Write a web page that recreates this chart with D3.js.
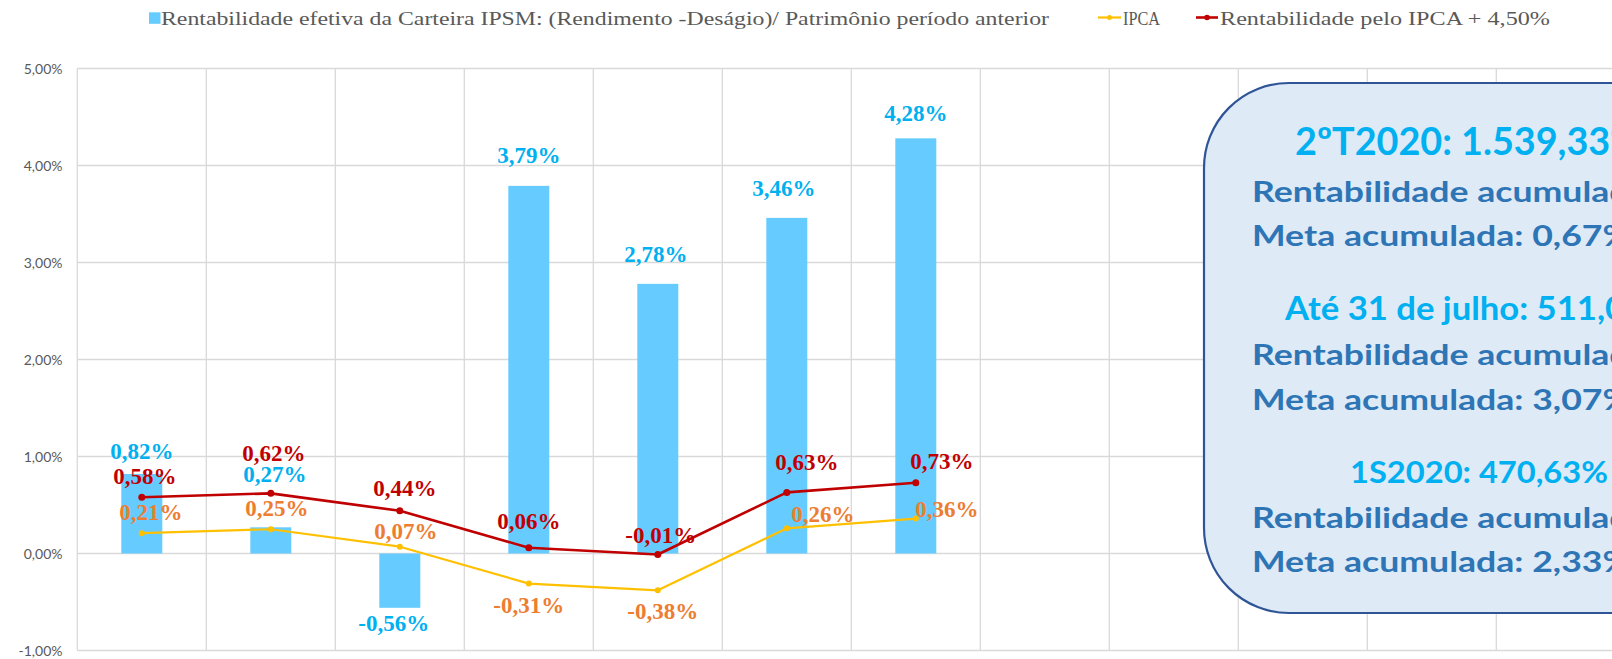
<!DOCTYPE html>
<html><head><meta charset="utf-8">
<script src="https://cdn.jsdelivr.net/npm/d3@7"></script>
<style>html,body{margin:0;padding:0;background:#fff;overflow:hidden}</style>
</head><body><svg id="c" width="1612" height="659"></svg>
<script>
// ---------------- DATA ----------------
const months = ["jan/20","fev/20","mar/20","abr/20","mai/20","jun/20","jul/20","ago/20","set/20","out/20","nov/20","dez/20"];
const rentabilidade = [0.82, 0.27, -0.56, 3.79, 2.78, 3.46, 4.28];
const ipca = [0.21, 0.25, 0.07, -0.31, -0.38, 0.26, 0.36];
const metaIpca = [0.58, 0.62, 0.44, 0.06, -0.01, 0.63, 0.73];
const yTicks = [-1, 0, 1, 2, 3, 4, 5];
const seriesNames = [
  "Rentabilidade efetiva da Carteira IPSM: (Rendimento -Deságio)/ Patrimônio período anterior",
  "IPCA",
  "Rentabilidade pelo IPCA + 4,50%"
];
const boxTitles = ["2ºT2020: 1.539,33%", "Até 31 de julho: 511,0", "1S2020: 470,63%"];
const boxRentLabel = "Rentabilidade acumulada";
const boxMetas = ["Meta acumulada: 0,67%", "Meta acumulada: 3,07%", "Meta acumulada: 2,33%"];

// ---------------- LAYOUT / STYLE ----------------
const svg = d3.select("#c");
const x = d3.scaleBand().domain(months).range([77.3, 77.3 + 129 * 12]).paddingInner(0).paddingOuter(0);
const y = d3.scaleLinear().domain([-1, 5]).range([650.5, 68.5]);
const barW = 41;
const C = {bar:"#66CCFF", blueLbl:"#00B0F0", red:"#C00000", yellow:"#FFC000", orange:"#ED7D31",
           grid:"#D9D9D9", axisTxt:"#595959", boxFill:"#DEEAF6", boxStroke:"#2F5597", boxBody:"#2E75B6"};
const locale = d3.formatLocale({decimal: ",", thousands: ".", grouping: [3], currency: ["R$", ""], minus: "-"});
const fmt = v => locale.format(".2f")(v) + "%";
const cx = i => x(months[i]) + x.bandwidth() / 2;

// label nudges (baseline offsets relative to mark end)
const barLabelOff  = [[0,-15],[4,-45],[-6,23],[0,-23],[-2,-22],[-3,-22],[0,-17]];
const metaLabelOff = [[3,-13],[3,-32],[5,-15],[0,-19],[3,-11],[20,-22],[26,-14]];
const ipcaLabelOff = [[9,-13],[6,-13],[6,-8],[0,29],[5,29],[36,-6],[31,-2]];

// gridlines
const g = svg.append("g");
g.selectAll("line.h").data(yTicks).join("line")
  .attr("x1", x.range()[0]).attr("x2", x.range()[1])
  .attr("y1", d => y(d)).attr("y2", d => y(d))
  .attr("stroke", C.grid).attr("stroke-width", 1.3);
const vBounds = d3.range(months.length + 1).map(i => x.range()[0] + i * x.step());
g.selectAll("line.v").data(vBounds).join("line")
  .attr("x1", d => d).attr("x2", d => d)
  .attr("y1", y(5)).attr("y2", y(-1))
  .attr("stroke", C.grid).attr("stroke-width", 1.3);

// y labels
svg.append("g").selectAll("text").data(yTicks).join("text")
  .attr("x", 62.5).attr("y", d => y(d) + 5)
  .attr("text-anchor", "end")
  .attr("font-family", "Lato").attr("font-size", 14).attr("fill", C.axisTxt)
  .text(d => fmt(d));

// bars
svg.append("g").selectAll("rect").data(rentabilidade).join("rect")
  .attr("x", (d, i) => cx(i) - barW / 2)
  .attr("width", barW)
  .attr("y", d => y(Math.max(0, d)))
  .attr("height", d => Math.abs(y(d) - y(0)))
  .attr("fill", C.bar);

// lines
const lineGen = d3.line().x((d, i) => cx(i)).y(d => y(d)).curve(d3.curveLinear);
svg.append("path").datum(ipca).attr("d", lineGen).attr("fill", "none")
  .attr("stroke", C.yellow).attr("stroke-width", 2.2).attr("stroke-linejoin", "round");
svg.append("g").selectAll("circle").data(ipca).join("circle")
  .attr("cx", (d, i) => cx(i)).attr("cy", d => y(d)).attr("r", 3).attr("fill", C.yellow);
svg.append("path").datum(metaIpca).attr("d", lineGen).attr("fill", "none")
  .attr("stroke", C.red).attr("stroke-width", 2.6).attr("stroke-linejoin", "round");
svg.append("g").selectAll("circle").data(metaIpca).join("circle")
  .attr("cx", (d, i) => cx(i)).attr("cy", d => y(d)).attr("r", 3.5).attr("fill", C.red);

// data labels
function labels(data, off, color) {
  svg.append("g").selectAll("text").data(data).join("text")
    .attr("x", (d, i) => cx(i) + off[i][0])
    .attr("y", d => y(d))
    .attr("dy", (d, i) => off[i][1])
    .attr("text-anchor", "middle")
    .attr("font-family", "Liberation Serif, Times New Roman, serif")
    .attr("font-weight", "bold").attr("font-size", 23)
    .attr("fill", color)
    .text(d => fmt(d));
}
labels(rentabilidade, barLabelOff, C.blueLbl);
labels(metaIpca, metaLabelOff, C.red);
labels(ipca, ipcaLabelOff, C.orange);

// legend
const lg = svg.append("g").attr("font-family", "Liberation Serif, Times New Roman, serif")
  .attr("font-size", 19).attr("fill", C.axisTxt);
lg.append("rect").attr("x", 149).attr("y", 12.3).attr("width", 11.5).attr("height", 11.5).attr("fill", C.bar);
lg.append("text").attr("x", 161).attr("y", 24.5).attr("textLength", 888).attr("lengthAdjust", "spacingAndGlyphs").text(seriesNames[0]);
lg.append("line").attr("x1", 1098).attr("x2", 1121).attr("y1", 17.5).attr("y2", 17.5).attr("stroke", C.yellow).attr("stroke-width", 2.2);
lg.append("circle").attr("cx", 1109.5).attr("cy", 17.5).attr("r", 2.5).attr("fill", C.yellow);
lg.append("text").attr("x", 1123).attr("y", 24.5).attr("textLength", 37).attr("lengthAdjust", "spacingAndGlyphs").text(seriesNames[1]);
lg.append("line").attr("x1", 1196).attr("x2", 1218).attr("y1", 17.5).attr("y2", 17.5).attr("stroke", C.red).attr("stroke-width", 2.6);
lg.append("circle").attr("cx", 1207).attr("cy", 17.5).attr("r", 2.8).attr("fill", C.red);
lg.append("text").attr("x", 1220).attr("y", 24.5).attr("textLength", 330).attr("lengthAdjust", "spacingAndGlyphs").text(seriesNames[2]);

// text box
svg.append("rect").attr("x", 1204).attr("y", 83).attr("width", 560).attr("height", 530)
  .attr("rx", 85).attr("ry", 85)
  .attr("fill", C.boxFill).attr("stroke", C.boxStroke).attr("stroke-width", 2.2);

const tb = svg.append("g").attr("font-family", "Lato").attr("font-weight", "bold");
function fitText(str, xPos, yPos, size, color, prefixLen, targetW, sxOverride) {
  const t = tb.append("text").attr("font-size", size).attr("fill", color).attr("x", 0).attr("y", 0).text(str);
  let sx = sxOverride;
  if (sx === undefined) {
    const w = t.node().getSubStringLength(0, prefixLen);
    sx = targetW / w;
  }
  t.attr("transform", `translate(${xPos},${yPos}) scale(${sx},1)`);
  return sx;
}
fitText(boxTitles[0], 1295, 155, 38, C.blueLbl, 8, 157);
const bodySx = fitText(boxMetas[0], 1252, 245.5, 29, C.boxBody, 15, 271.6);
fitText(boxRentLabel, 1252, 201.5, 29, C.boxBody, 0, 0, bodySx);
fitText(boxTitles[1], 1285, 320, 32, C.blueLbl, 16, 243.3);
fitText(boxRentLabel, 1252, 365, 29, C.boxBody, 0, 0, bodySx);
fitText(boxMetas[1], 1252, 410, 29, C.boxBody, 0, 0, bodySx);
fitText(boxTitles[2], 1350, 483.3, 31, C.blueLbl, 15, 258);
fitText(boxRentLabel, 1252, 528.3, 29, C.boxBody, 0, 0, bodySx);
fitText(boxMetas[2], 1252, 571.7, 29, C.boxBody, 0, 0, bodySx);
</script></body></html>
